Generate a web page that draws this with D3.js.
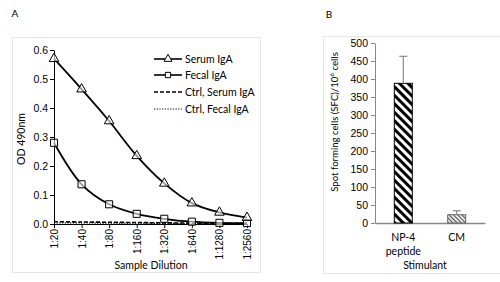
<!DOCTYPE html>
<html><head><meta charset="utf-8">
<script src="https://cdn.jsdelivr.net/npm/d3@7"></script>
<style>
body{margin:0;background:#fff;}
svg{font-family:Lato,"Open Sans",sans-serif;}
</style></head>
<body><svg id="c" width="500" height="282"></svg>
<script>
// Panel A data
const dilutions = ["1:20","1:40","1:80","1:160","1:320","1:640","1:1280","1:2560"];
const serumIgA = [0.57,0.465,0.355,0.235,0.14,0.072,0.04,0.022];
const fecalIgA = [0.28,0.137,0.068,0.035,0.018,0.008,0.004,0.003];
const ctrlSerumIgA = [0.008,0.007,0.006,0.005,0.004,0.003,0.002,0.002];
const ctrlFecalIgA = [0.004,0.004,0.003,0.003,0.002,0.002,0.001,0.001];
const yTicksA = [0,0.1,0.2,0.3,0.4,0.5,0.6];
// Panel B data
const stimulants = ["NP-4 peptide","CM"];
const sfcValues = [388,23];
const sfcErrors = [75,11];
const yTicksB = [0,50,100,150,200,250,300,350,400,450,500];

const svg = d3.select("#c");
const defs = svg.append("defs");
const p1 = defs.append("pattern").attr("id","hatch1").attr("patternUnits","userSpaceOnUse")
  .attr("width",6).attr("height",6).attr("patternTransform","rotate(-45)");
p1.append("rect").attr("width",6).attr("height",6).attr("fill","#fff");
p1.append("rect").attr("width",3).attr("height",6).attr("fill","#000");
const p2 = defs.append("pattern").attr("id","hatch2").attr("patternUnits","userSpaceOnUse")
  .attr("width",3).attr("height",3).attr("patternTransform","rotate(-45)");
p2.append("rect").attr("width",3).attr("height",3).attr("fill","#fff");
p2.append("rect").attr("width",1.3).attr("height",3).attr("fill","#555");

// panel frames
svg.append("rect").attr("x",12.5).attr("y",37.5).attr("width",248).attr("height",235)
  .attr("fill","none").attr("stroke","#e6e6e6");
svg.append("rect").attr("x",323.5).attr("y",36.5).attr("width",190).attr("height",237)
  .attr("fill","none").attr("stroke","#e6e6e6");
svg.append("text").attr("x",15).attr("y",17).attr("font-size",10).attr("text-anchor","middle").text("A");
svg.append("text").attr("x",329).attr("y",18).attr("font-size",10).attr("text-anchor","middle").text("B");

// ---- Panel A
const xA = d3.scalePoint().domain(dilutions).range([54,247]);
const yA = d3.scaleLinear().domain([0,0.6]).range([224,50]);
const gA = svg.append("g");
const ax = gA.append("g").attr("transform","translate(0,224)")
  .call(d3.axisBottom(xA).tickSize(4).tickSizeOuter(0));
ax.select(".domain").attr("stroke","#000");
ax.selectAll(".tick line").attr("stroke","#000");
ax.selectAll(".tick text").attr("font-size",10).attr("fill","#000")
  .attr("transform","rotate(-90)").attr("text-anchor","end").attr("x",-5).attr("y",0).attr("dy","0.35em");
const ay = gA.append("g").attr("transform","translate(54,0)")
  .call(d3.axisLeft(yA).tickValues(yTicksA).tickFormat(d3.format(".1f")).tickSize(4).tickSizeOuter(0));
ay.select(".domain").attr("stroke","#000");
ay.selectAll(".tick line").attr("stroke","#000");
ay.selectAll(".tick text").attr("font-size",10.5).attr("fill","#000").attr("x",-6);
svg.append("text").attr("transform","translate(25,139) rotate(-90)").attr("font-size",10.5)
  .attr("text-anchor","middle").text("OD 490nm");
svg.append("text").attr("x",151).attr("y",269).attr("font-size",10.5)
  .attr("text-anchor","middle").text("Sample Dilution");

const line = d3.line().x((d,i)=>xA(dilutions[i])).y(d=>yA(d)).curve(d3.curveCatmullRom);
gA.append("path").datum(ctrlFecalIgA).attr("d",line).attr("fill","none").attr("stroke","#000")
  .attr("stroke-width",1.3).attr("stroke-dasharray","1.2,1.5");
gA.append("path").datum(ctrlSerumIgA).attr("d",line).attr("fill","none").attr("stroke","#000")
  .attr("stroke-width",1.6).attr("stroke-dasharray","4,2");
gA.append("path").datum(fecalIgA).attr("d",line).attr("fill","none").attr("stroke","#000").attr("stroke-width",1.8);
gA.append("path").datum(serumIgA).attr("d",line).attr("fill","none").attr("stroke","#000").attr("stroke-width",1.8);
const tri = d3.symbol().type(d3.symbolTriangle).size(40);
const sq = d3.symbol().type(d3.symbolSquare).size(50);
gA.selectAll(".sq").data(fecalIgA).join("path").attr("d",sq)
  .attr("transform",(d,i)=>`translate(${xA(dilutions[i])},${yA(d)})`)
  .attr("fill","#fff").attr("fill-opacity",0.6).attr("stroke","#000").attr("stroke-width",1);
gA.selectAll(".tr").data(serumIgA).join("path").attr("d",tri)
  .attr("transform",(d,i)=>`translate(${xA(dilutions[i])},${yA(d)})`)
  .attr("fill","#fff").attr("fill-opacity",0.6).attr("stroke","#000").attr("stroke-width",1);

// legend
const leg = [
  {name:"Serum IgA",dash:null,sym:"tri",y:59},
  {name:"Fecal IgA",dash:null,sym:"sq",y:75},
  {name:"Ctrl, Serum IgA",dash:"4,2",sym:null,y:92},
  {name:"Ctrl, Fecal IgA",dash:"1.2,1.5",sym:null,y:109}
];
leg.forEach(l=>{
  svg.append("line").attr("x1",154).attr("x2",182).attr("y1",l.y).attr("y2",l.y)
    .attr("stroke","#000").attr("stroke-width",l.dash==="1.2,1.5"?1.2:1.6).attr("stroke-dasharray",l.dash);
  if(l.sym) svg.append("path").attr("d",d3.symbol().type(l.sym==="tri"?d3.symbolTriangle:d3.symbolSquare).size(28))
    .attr("transform",`translate(168,${l.y})`).attr("fill","#fff").attr("stroke","#000");
  svg.append("text").attr("x",185).attr("y",l.y).attr("dy","0.35em").attr("font-size",10.5).text(l.name);
});

// ---- Panel B
const xB = d3.scaleBand().domain(stimulants).range([375,485]).paddingInner(1.05).paddingOuter(0.53);
const yB = d3.scaleLinear().domain([0,500]).range([223,43]);
const bx = svg.append("g").attr("transform","translate(0,223)")
  .call(d3.axisBottom(xB).tickSize(0).tickFormat(""));
bx.select(".domain").attr("stroke","#888").attr("stroke-width",1.3);
const by = svg.append("g").attr("transform","translate(375,0)")
  .call(d3.axisLeft(yB).tickValues(yTicksB).tickSize(4).tickSizeOuter(0));
by.select(".domain").attr("stroke","#888");
by.selectAll(".tick line").attr("stroke","#888");
by.selectAll(".tick text").attr("font-size",10.5).attr("fill","#000").attr("x",-7);

const bw = 18;
svg.selectAll(".bar").data(stimulants).join("rect")
  .attr("x",d=>xB(d)+xB.bandwidth()/2-bw/2).attr("width",bw)
  .attr("y",(d,i)=>yB(sfcValues[i])).attr("height",(d,i)=>yB(0)-yB(sfcValues[i]))
  .attr("fill",(d,i)=>i===0?"url(#hatch1)":"url(#hatch2)")
  .attr("stroke",(d,i)=>i===0?"#000":"#666").attr("stroke-width",1);
stimulants.forEach((d,i)=>{
  const cx = xB(d)+xB.bandwidth()/2;
  svg.append("line").attr("x1",cx).attr("x2",cx).attr("y1",yB(sfcValues[i])).attr("y2",yB(sfcValues[i]+sfcErrors[i]))
    .attr("stroke","#888").attr("stroke-width",1.2);
  svg.append("line").attr("x1",cx-4).attr("x2",cx+4).attr("y1",yB(sfcValues[i]+sfcErrors[i])).attr("y2",yB(sfcValues[i]+sfcErrors[i]))
    .attr("stroke","#888").attr("stroke-width",1.2);
  const words = d.split(" ");
  words.forEach((w,k)=>{
    svg.append("text").attr("x",cx).attr("y",241+k*14).attr("font-size",10.5).attr("text-anchor","middle").text(w);
  });
});
svg.append("text").attr("x",425).attr("y",269).attr("font-size",10.5).attr("text-anchor","middle").text("Stimulant");
const yt = svg.append("text").attr("transform","translate(338,122) rotate(-90)").attr("font-size",9.6)
  .attr("text-anchor","middle");
yt.append("tspan").text("Spot forming cells (SFC)/10");
yt.append("tspan").attr("font-size",6.5).attr("dy","-4").text("6");
yt.append("tspan").attr("dy","4").text(" cells");
</script></body></html>
